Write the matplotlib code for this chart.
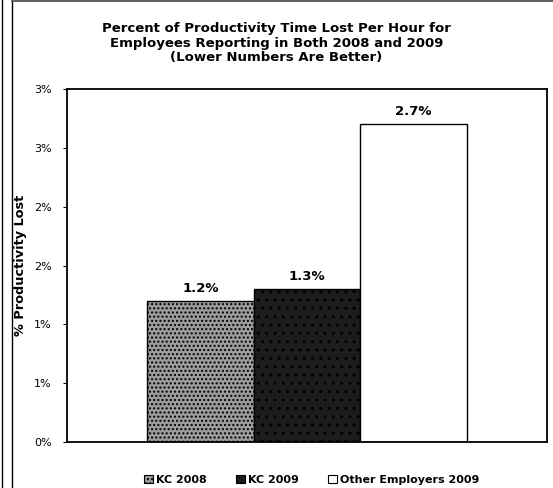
import math
import matplotlib
matplotlib.use("Agg")
import matplotlib.pyplot as plt
from matplotlib.ticker import FuncFormatter, MultipleLocator
from matplotlib.patches import Rectangle
from matplotlib.lines import Line2D

series = ["KC 2008", "KC 2009", "Other Employers 2009"]
values = [1.2, 1.3, 2.7]
labels = ["1.2%", "1.3%", "2.7%"]
title = ("Percent of Productivity Time Lost Per Hour for\n"
         "Employees Reporting in Both 2008 and 2009\n"
         "(Lower Numbers Are Better)")
ylabel = "% Productivity Lost"

colors = ["#9c9c9c", "#1c1c1c", "#ffffff"]
hatches = ["....", "..", None]

plt.rcParams['font.family'] = ['DejaVu Sans']
plt.rcParams['hatch.color'] = 'white'
fig = plt.figure(figsize=(5.53, 4.88), dpi=100)
ax = fig.add_axes([67/553, 1-442/488, (547-67)/553, (442-89)/488])

xs = [-1, 0, 1]
for x, v, c, h, lab in zip(xs, values, colors, hatches, labels):
    ax.bar(x, v, width=1.0, color=c, edgecolor="black", linewidth=1.0, hatch=h)
    ax.text(x, v + 0.05, lab, ha="center", va="bottom", fontsize=9.5,
            fontweight="bold")

ax.set_xlim(-2.25, 2.25)
ax.set_ylim(0, 3)
ax.yaxis.set_major_locator(MultipleLocator(0.5))
ax.yaxis.set_major_formatter(FuncFormatter(lambda v, p: f"{math.floor(v + 0.5 + 1e-9):d}%"))
ax.set_xticks([])
ax.tick_params(axis="y", length=3, width=0.8, labelsize=8, pad=8)
for s in ax.spines.values():
    s.set_linewidth(1.3)
ax.set_ylabel(ylabel, fontsize=9.3, fontweight="bold", labelpad=6)
ax.yaxis.set_label_coords(-(67 - 27) / 480, 0.5)

fig.text(0.5, 1 - 43/488, title, ha="center", va="center", fontsize=9.5,
         fontweight="bold", linespacing=1.15)

handles = [Rectangle((0, 0), 1, 1, facecolor=c, edgecolor="black", linewidth=0.8, hatch=h)
           for c, h in zip(colors, hatches)]
fig.legend(handles, series, loc="center", bbox_to_anchor=(312/553, 1-480/488),
           ncol=3, frameon=False, prop={"weight": "bold", "size": 8},
           handlelength=0.8, handleheight=0.8, handletextpad=0.3, columnspacing=2.6)

# outer frame lines
fig.add_artist(Line2D([2/553, 2/553], [0, 1], transform=fig.transFigure, color="black", linewidth=1.0))
fig.add_artist(Line2D([12/553, 12/553], [0, 0.997], transform=fig.transFigure, color="black", linewidth=1.0))
fig.add_artist(Line2D([12/553, 1], [0.997, 0.997], transform=fig.transFigure, color="#444444", linewidth=1.2))

fig.savefig("out.png", dpi=100)
